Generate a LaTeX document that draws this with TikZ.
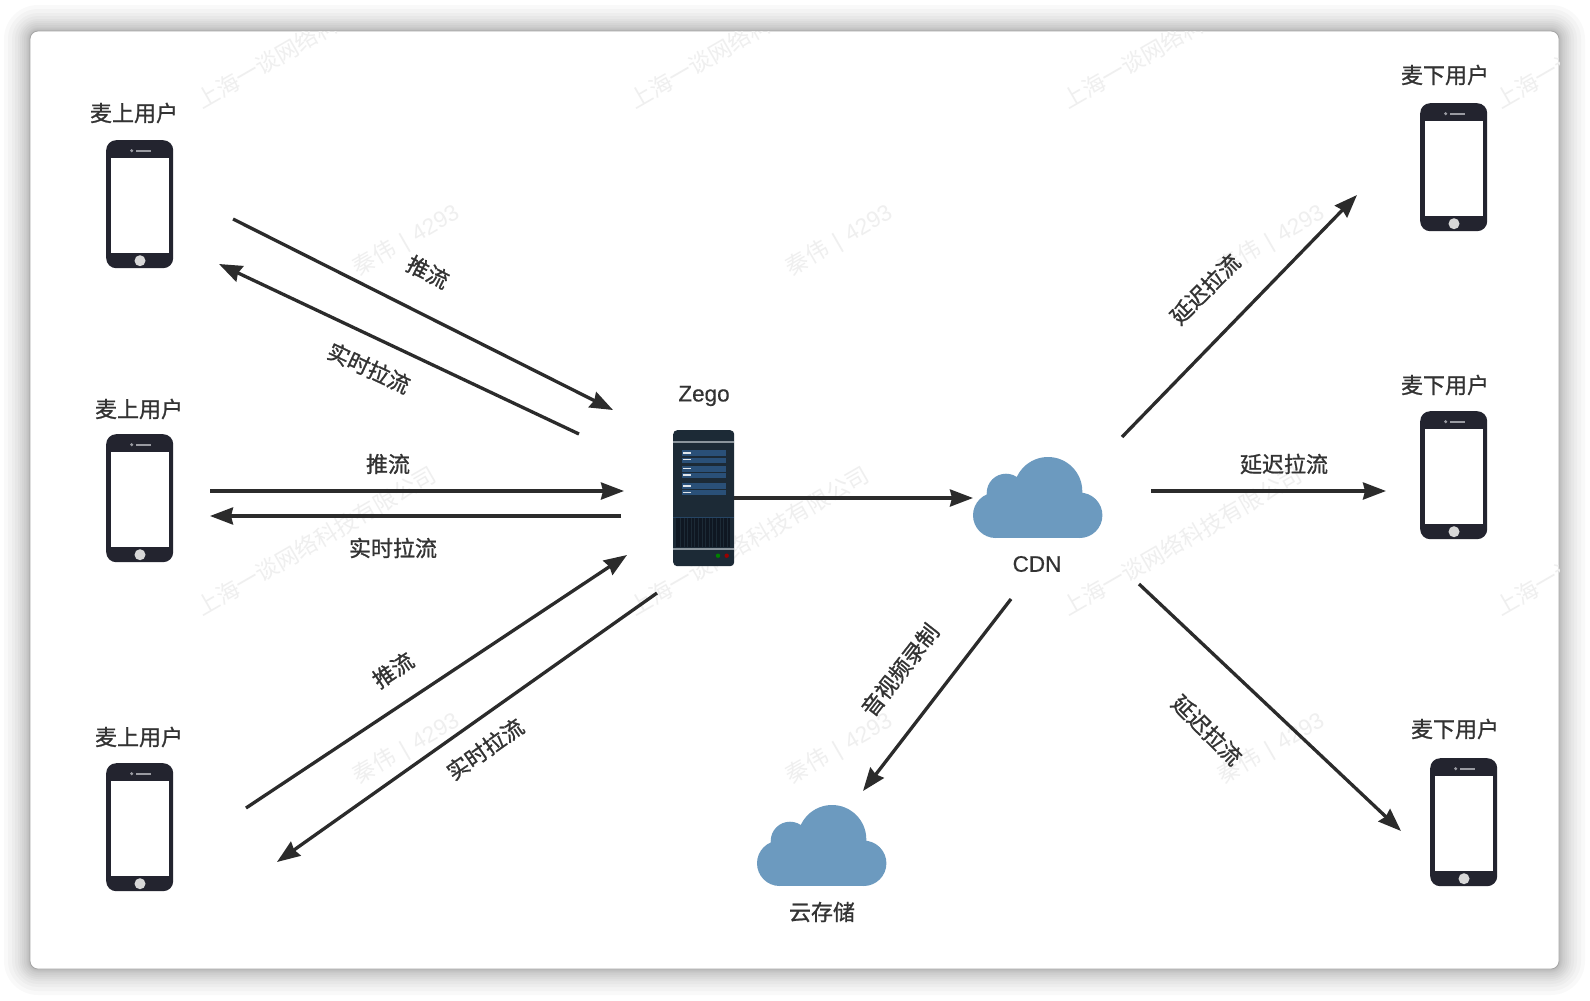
\documentclass[tikz,border=0pt]{standalone}
\usepackage{fontspec}
\setmainfont{Noto Sans CJK SC}
\newfontfamily\latinf[FakeBold=0.5]{Liberation Sans}
\newfontfamily\wmlat{Liberation Sans}
\newfontfamily\cjkmed[FakeBold=1.0]{Noto Sans CJK SC}
\usetikzlibrary{arrows.meta}
\definecolor{ink}{HTML}{2B2B2B}
\definecolor{txt}{HTML}{333333}
\definecolor{phonec}{HTML}{23242F}
\definecolor{cloudc}{HTML}{6C9ABF}
\definecolor{srv}{HTML}{1C2A36}
\definecolor{srvb}{HTML}{2A5078}
\definecolor{srvd}{HTML}{0F1722}
\definecolor{srvl}{HTML}{8A949C}
\definecolor{wm}{HTML}{EFEFEF}
\definecolor{btn}{HTML}{D8D8D8}
\definecolor{spk}{HTML}{9A9BA2}
\tikzset{
  conn/.style={draw=ink,line width=3.3pt,-{Stealth[length=23pt,width=17pt,inset=2pt]}},
  lbl/.style={text=txt,font=\fontsize{22}{22}\selectfont\cjkmed,inner sep=0pt,anchor=center},
  lat/.style={text=txt,font=\fontsize{22.5}{23}\selectfont\latinf,inner sep=0pt,anchor=center},
  wmk/.style={text=wm,font=\fontsize{22.7}{23}\selectfont,inner sep=0pt,anchor=west,rotate=30},
  phonebody/.style={fill=phonec,rounded corners=10pt,minimum width=67pt,minimum height=128pt,inner sep=0pt,anchor=north west},
  serverbody/.style={fill=srv,rounded corners=4pt,minimum width=61pt,minimum height=136pt,inner sep=0pt,anchor=north west},
  cloudbox/.style={minimum width=130pt,minimum height=81pt,inner sep=0pt,anchor=north west},
}
\newcommand{\phoneicon}[3]{%
  \node[phonebody] (#1) at (#2,#3) {};
  \begin{scope}[shift={(#2,#3)}]
    \fill[white] (4.7,18.3) rectangle (63.3,112.7);
    \fill[btn] (34,120.7) circle (5.5);
    \fill[spk] (25.7,10.7) circle (1.7);
    \fill[spk] (30,9.9) rectangle (44.7,11.7);
  \end{scope}}
\newcommand{\cloudicon}[3]{%
  \node[cloudbox] (#1) at (#2,#3) {};
  \begin{scope}[shift={(#2,#3)}]
    \fill[cloudc] (75,34.3) circle (34.3) (33,36) circle (19.3) (22.7,58.3) circle (22.7) (106.7,58.3) circle (22.7);
    \fill[cloudc] (22.7,40) rectangle (106.7,81);
  \end{scope}}
\begin{document}
\begin{tikzpicture}[x=1pt,y=-1pt]
\useasboundingbox (0,0) rectangle (1590,1001);
\fill[white] (0,0) rectangle (1590,1001);
% shadow
\foreach \i in {26,22,18,15,12,10,8,6,4,3,2,1}{
  \fill[black,opacity=0.023,rounded corners=8pt+\i pt] (30-\i,31-\i) rectangle (1559+\i,969+\i);
}
\fill[white,draw=gray!70,line width=0.8pt,rounded corners=8pt] (30,31) rectangle (1559,969);
% watermarks
\begin{scope}
\clip[rounded corners=8pt] (30,31) rectangle (1559,969);
\foreach \x in {198,631,1064,1497}{
  \foreach \y in {102,609}{
    \node[wmk] (wa\x\y) at (\x,\y) {上海一谈网络科技有限公司};
  }
}
\foreach \x in {355,788,1220}{
  \foreach \y in {270,778}{
    \node[wmk] (wb\x\y) at (\x,\y) {秦伟\hspace{3pt} {\wmlat |}\hspace{3pt} {\wmlat 4293}};
  }
}
\end{scope}
% phones
\phoneicon{pa}{106}{140}
\phoneicon{pb}{106}{434}
\phoneicon{pc}{106}{763}
\phoneicon{pd}{1420}{103}
\phoneicon{pe}{1420}{411}
\phoneicon{pf}{1430}{758}
% server
\node[serverbody] (zego) at (673,430) {};
\begin{scope}[shift={(673,430)}]
  \fill[srvl] (0,11) rectangle (61,12.6);
  \foreach \a/\b in {20/26,27.5/32.5,36/41.5,42.5/47.5,53.3/58.5,60/65}{
    \fill[srvb] (8.5,\a) rectangle (53,\b);
  }
  \foreach \a in {22.7,29.3,38.3,44.7,55.7,62.3}{
    \fill[white!85!srvb] (10,\a-0.8) rectangle (18,\a+0.8);
  }
  \fill[srvb!70!srv] (0,86.5) rectangle (61,87.3);
  \fill[srvd] (3.3,88) rectangle (57,117);
  \foreach \k in {1,...,14}{
    \fill[srv] (3.3+\k*3.6,88) rectangle (3.3+\k*3.6+0.7,117);
  }
  \fill[srvl] (0,118) rectangle (61,119.6);
  \fill[green!50!black] (45,125.7) circle (2.2);
  \fill[red!60!black] (53.7,125.7) circle (2.2);
\end{scope}
% clouds
\cloudicon{cdn}{973}{457}
\cloudicon{store}{757}{805}
% free ends
\coordinate (a1) at (233,219); \coordinate (a2) at (613,410);
\coordinate (b1) at (579,434); \coordinate (b2) at (219,264);
\coordinate (c1) at (210,491); \coordinate (c2) at (624,491);
\coordinate (d1) at (621,516); \coordinate (d2) at (210,516);
\coordinate (e1) at (246,808); \coordinate (e2) at (627,555);
\coordinate (f1) at (657,593); \coordinate (f2) at (277,862);
\coordinate (g1) at (734,498); \coordinate (g2) at (973,498);
\coordinate (h1) at (1122,437); \coordinate (h2) at (1357,195);
\coordinate (i1) at (1151,491); \coordinate (i2) at (1386,491);
\coordinate (j1) at (1139,584); \coordinate (j2) at (1401,831);
\coordinate (k1) at (1011,599); \coordinate (k2) at (863,791);
\foreach \s/\t in {a1/a2,b1/b2,c1/c2,d1/d2,e1/e2,f1/f2,g1/g2,h1/h2,i1/i2,j1/j2,k1/k2}{
  \draw[conn] (\s) -- (\t);
}
% labels
\node[lbl] (t1) at (134,113) {麦上用户};
\node[lbl] (t2) at (139,409) {麦上用户};
\node[lbl] (t3) at (139,737) {麦上用户};
\node[lbl] (t4) at (1445,75) {麦下用户};
\node[lbl] (t5) at (1445,385) {麦下用户};
\node[lbl] (t6) at (1455,729) {麦下用户};
\node[lat] (t7) at (704,396) {Zego};
\node[lat] (t8) at (1037,564) {CDN};
\node[lbl] (t9) at (822,912) {云存储};
\node[lbl,rotate=-27] (l1) at (428,272) {推流};
\node[lbl,rotate=-25] (l2) at (369,368) {实时拉流};
\node[lbl] (l3) at (388,464) {推流};
\node[lbl] (l4) at (393,548) {实时拉流};
\node[lbl,rotate=34] (l5) at (393,670) {推流};
\node[lbl,rotate=35] (l6) at (485,749) {实时拉流};
\node[lbl,rotate=45] (l7) at (1205,289) {延迟拉流};
\node[lbl] (l8) at (1284,464) {延迟拉流};
\node[lbl,rotate=-45] (l9) at (1207,730) {延迟拉流};
\node[lbl,rotate=52] (l10) at (900,670) {音视频录制};
\end{tikzpicture}
\end{document}
